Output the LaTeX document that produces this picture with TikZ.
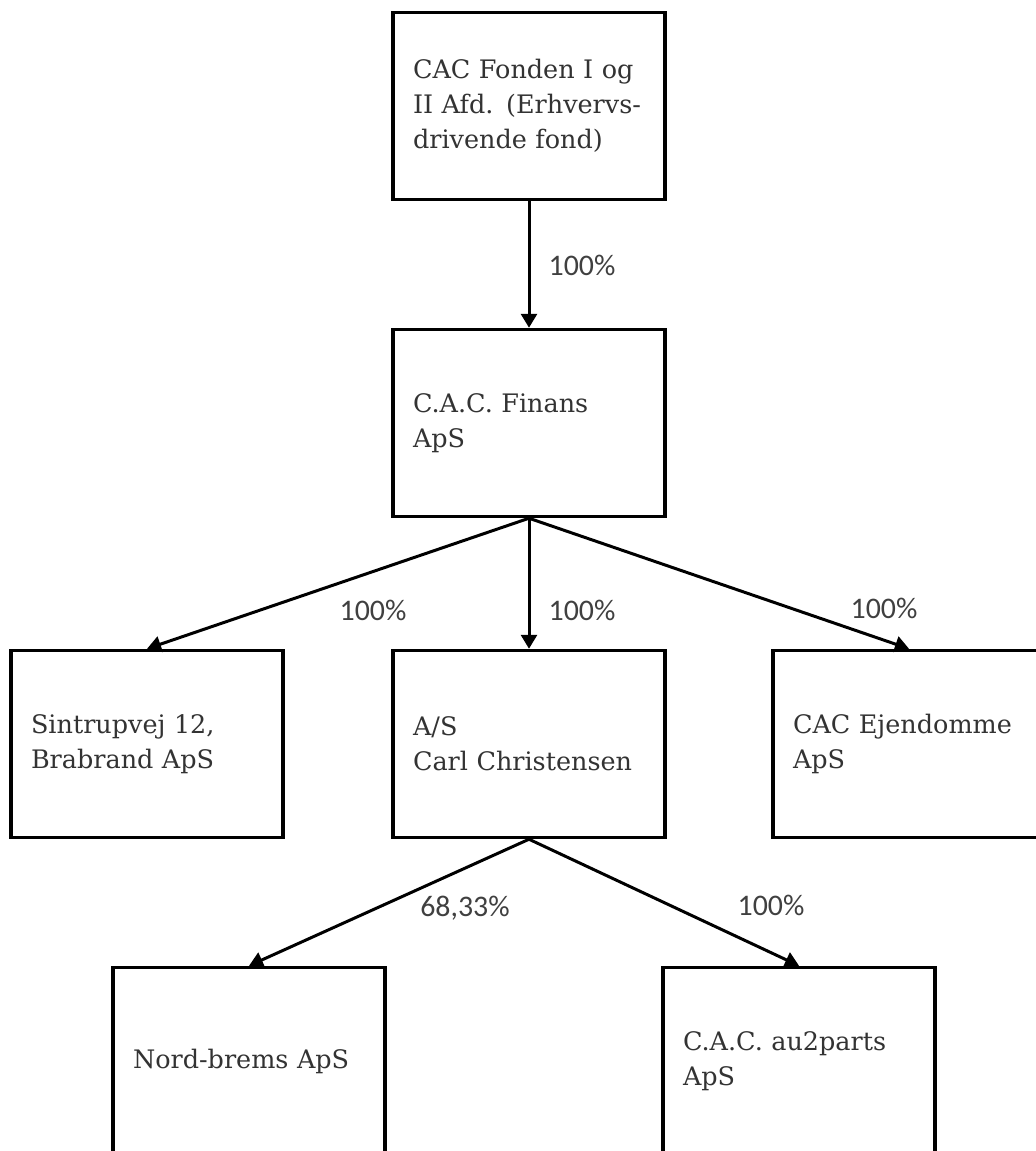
\documentclass[tikz,border=0pt]{standalone}
\usepackage{fontspec}
\setmainfont{DejaVu Serif}
\newfontfamily\pctfamily{Carlito}
\usepackage{tikz}
\usetikzlibrary{arrows.meta}

\tikzset{
  firm/.style={rectangle, draw, line width=2pt, fill=white, minimum height=3.74cm,
    text width=4.64cm, inner xsep=0.4cm, align=left, text=black!80,
    font=\fontsize{14.5}{20}\selectfont},
  share/.style={->, line width=1.7pt, >={Triangle[length=0.28cm, width=0.32cm]}},
  pct/.style={font=\pctfamily\fontsize{17}{19}\selectfont, text=black!75},
}

\begin{document}
\begin{tikzpicture}[x=0.02cm, y=-0.02cm]
  \useasboundingbox (0,0) rectangle (1035,1151);
  % firms
  \node[firm] (fond) at (529,106) {CAC Fonden I og\\II Afd. (Erhvervs-\\drivende fond)};
  \node[firm] (finans) at (529,423) {C.A.C. Finans\\ApS};
  \node[firm] (sintrup) at (147,744) {Sintrupvej 12,\\Brabrand ApS};
  \node[firm] (carl) at (529,744) {A/S\\Carl Christensen};
  \node[firm] (ejendom) at (909,744) {CAC Ejendomme\\ApS};
  \node[firm] (nordbrems) at (249,1061) {Nord-brems ApS};
  \node[firm] (autoparts) at (799,1061) {C.A.C. au2parts\\ApS};
  % ownership
  \draw[share] (fond) -- (finans);
  \draw[share] (finans.south) -- (sintrup.north);
  \draw[share] (finans) -- (carl);
  \draw[share] (finans.south) -- (ejendom.north);
  \draw[share] (carl.south) -- (nordbrems.north);
  \draw[share] (carl.south) -- (autoparts.north);
  % shares
  \node[pct] (p1) at (582,265) {100\%};
  \node[pct] (p2) at (373,610) {100\%};
  \node[pct] (p3) at (582,610) {100\%};
  \node[pct] (p4) at (884,608) {100\%};
  \node[pct] (p5) at (465,908) {68,33\%};
  \node[pct] (p6) at (771,905) {100\%};
\end{tikzpicture}
\end{document}
